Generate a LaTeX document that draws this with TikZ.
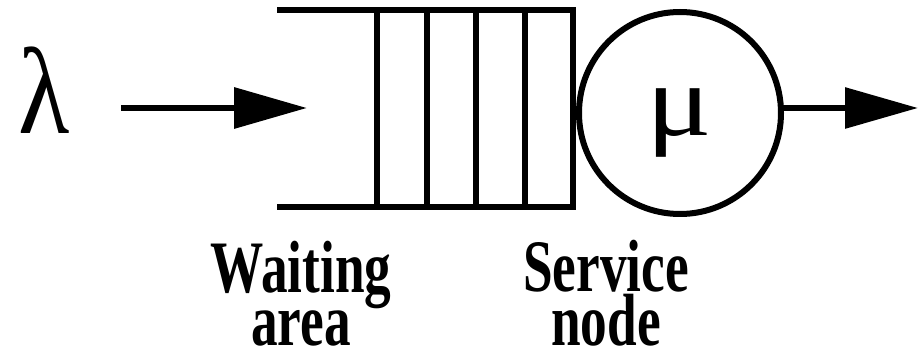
\documentclass[tikz,border=0pt]{standalone}
\usepackage{fontspec}
\setmainfont{Liberation Serif}
\newfontfamily\lblfont[FakeStretch=0.72]{Liberation Serif}
\usetikzlibrary{arrows.meta}
\tikzset{
  thick line/.style={line width=6.5pt},
  flow/.style={line width=6.5pt,-{Triangle[length=73pt,width=40pt]}},
  label text/.style={font=\lblfont\bfseries\fontsize{74}{48}\selectfont,align=center,inner sep=0pt,anchor=base},
  greek/.style={inner sep=0pt,anchor=base}
}
\begin{document}
\begin{tikzpicture}[x=1pt,y=-1pt]
\useasboundingbox (0,0) rectangle (919,358);
% lambda
\node[greek,font=\fontsize{123}{123}\selectfont] (lam) at (44,134) {\scalebox{0.86}[1]{λ}};
\coordinate (in1) at (121,108);
\coordinate (in2) at (307,108);
\draw[flow] (in1) -- (in2);
% queue
\draw[thick line] (277,10) -- (573,10) -- (573,207) -- (277,207);
\foreach \x in {377,427,476,525} \draw[thick line] (\x,10) -- (\x,207);
% server
\node[draw,circle,line width=6pt,minimum size=202pt,inner sep=0pt] (srv) at (680,113) {};
\node[greek,font=\fontsize{102}{102}\selectfont] (mu) at (679,136) {\scalebox{1.2}[1]{μ}};
\coordinate (out1) at (783,108);
\coordinate (out2) at (918,108);
\draw[flow,line width=6pt] (out1) -- (out2);
% labels
\node[label text] (wait) at (301,345) {Waiting\\area};
\node[label text] (serv) at (606,345) {Service\\node};
\end{tikzpicture}
\end{document}
